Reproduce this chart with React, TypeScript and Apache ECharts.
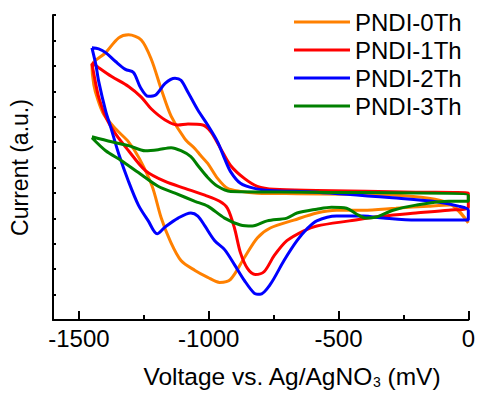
import React, { useEffect, useRef } from "react";
import * as echarts from "echarts";

// Voltage (mV) vs current (a.u.) loops
const seriesNames = ["PNDI-0Th", "PNDI-1Th", "PNDI-2Th", "PNDI-3Th"];
const seriesColors = ["#FF8000", "#FF0000", "#0000FF", "#008000"];

const pndi0Th: [number, number][] = [
  [0, 3.82], [-38, 4.29], [-76, 4.6], [-153, 4.79], [-279, 4.91], [-469, 4.95], [-660, 4.97],
  [-813, 4.99], [-878, 5.06], [-928, 5.18], [-966, 5.57], [-1004, 6.16], [-1031, 6.47],
  [-1053, 6.74], [-1092, 7.13], [-1145, 8.02], [-1183, 9.08], [-1221, 10.25], [-1260, 11.02],
  [-1309, 11.22], [-1347, 11.1], [-1397, 10.52], [-1450, 10.01],
  [-1443, 9.27], [-1428, 8.69], [-1405, 8.1], [-1359, 7.52], [-1309, 7.01], [-1267, 6.35],
  [-1218, 5.26], [-1183, 4.01], [-1149, 3.12], [-1107, 2.34], [-1053, 1.95], [-1004, 1.68],
  [-958, 1.48], [-916, 1.6], [-863, 2.45], [-813, 3.23], [-763, 3.62], [-672, 3.93],
  [-584, 4.21], [-508, 4.32], [-405, 4.32], [-279, 4.4], [-153, 4.48], [-69, 4.52], [0, 3.82],
];

const pndi1Th: [number, number][] = [
  [-1450, 10.09], [-1435, 9.27], [-1424, 8.77], [-1397, 7.99], [-1359, 7.32], [-1309, 6.66],
  [-1244, 5.88], [-1168, 5.45], [-1092, 5.18], [-1015, 4.91], [-958, 4.67], [-928, 4.4],
  [-901, 3.62], [-878, 2.65], [-851, 2.03], [-821, 1.79], [-786, 1.91], [-748, 2.53],
  [-699, 3.12], [-634, 3.51], [-584, 3.7], [-458, 3.9], [-328, 4.09], [-202, 4.21],
  [-76, 4.32], [0, 4.44],
  [0, 4.99], [-202, 5.03], [-584, 5.1], [-748, 5.14], [-813, 5.26], [-863, 5.57],
  [-916, 6.08], [-954, 6.74], [-992, 7.4], [-1023, 7.67], [-1080, 7.71], [-1118, 7.67],
  [-1168, 7.87], [-1221, 8.3], [-1260, 8.77], [-1309, 9.19], [-1374, 9.58], [-1424, 9.93],
  [-1450, 10.13],
];

const pndi2Th: [number, number][] = [
  [-1450, 10.71], [-1435, 10.05], [-1424, 9.39], [-1397, 8.22], [-1378, 7.6], [-1347, 6.54],
  [-1309, 5.45], [-1271, 4.52], [-1233, 3.9], [-1199, 3.39], [-1168, 3.66], [-1118, 4.01],
  [-1069, 4.21], [-1042, 4.09], [-1015, 3.7], [-977, 3.12], [-939, 2.77], [-901, 2.18],
  [-863, 1.56], [-824, 1.05], [-802, 1.01], [-763, 1.4], [-710, 2.34], [-660, 3.12],
  [-622, 3.58], [-584, 3.9], [-508, 4.09], [-405, 4.09], [-328, 4.01], [-202, 3.93], [0, 3.93],
  [0, 4.32], [-38, 4.48], [-137, 4.67], [-267, 4.79], [-584, 5.03], [-763, 5.1], [-824, 5.18],
  [-878, 5.38], [-916, 5.84], [-939, 6.35], [-966, 7.01], [-1004, 7.67], [-1042, 8.26],
  [-1080, 8.96], [-1107, 9.43], [-1130, 9.51], [-1168, 9.31], [-1206, 8.84], [-1233, 8.8],
  [-1263, 9.15], [-1290, 9.74], [-1321, 9.86], [-1359, 10.17], [-1397, 10.52], [-1424, 10.67],
  [-1450, 10.71],
];

const pndi3Th: [number, number][] = [
  [-1450, 7.17], [-1397, 6.66], [-1336, 6.27], [-1271, 5.8], [-1195, 5.26], [-1130, 4.99],
  [-1053, 4.67], [-1004, 4.48], [-939, 4.01], [-878, 3.74], [-832, 3.7], [-775, 3.9],
  [-699, 4.01], [-660, 4.21], [-584, 4.36], [-527, 4.44], [-469, 4.4], [-431, 4.17],
  [-393, 4.01], [-355, 4.05], [-290, 4.32], [-202, 4.52], [-76, 4.67], [0, 4.67],
  [0, 4.91], [-584, 5.03], [-916, 5.06], [-966, 5.26], [-1004, 5.61], [-1042, 6.08],
  [-1069, 6.43], [-1107, 6.66], [-1145, 6.78], [-1195, 6.7], [-1244, 6.66], [-1309, 6.86],
  [-1374, 7.01], [-1450, 7.21],
];

const majorTicks = [-1500, -1000, -500, 0];
const minorTicks = [-1250, -750, -250];

const FONT = "'Liberation Sans', Arial, sans-serif";

export default function App() {
  const ref = useRef<HTMLDivElement>(null);
  useEffect(() => {
    if (!ref.current) return;
    const chart = echarts.init(ref.current, null, { renderer: "svg" });
    const allData = [pndi0Th, pndi1Th, pndi2Th, pndi3Th];
    chart.setOption({
      animation: false,
      backgroundColor: "#fff",
      textStyle: { fontFamily: FONT },
      grid: { left: 53, right: 5, top: 15, bottom: 71 },
      legend: {
        orient: "vertical",
        left: 294,
        top: 10,
        padding: 0,
        icon: "rect",
        itemWidth: 56,
        itemHeight: 3,
        itemGap: 4,
        data: seriesNames,
        textStyle: { fontSize: 24, color: "#000", fontFamily: FONT },
      },
      xAxis: [
        {
          type: "value",
          min: -1600,
          max: 0,
          name: "Voltage vs. Ag/AgNO{sub|3} (mV)",
          nameLocation: "middle",
          nameGap: 44,
          nameTextStyle: {
            fontSize: 24.5,
            color: "#000",
            fontFamily: FONT,
            padding: [0, 0, 0, 62],
            rich: {
              sub: { fontSize: 14, lineHeight: 14, padding: [18, 0, 0, 0], verticalAlign: "bottom", color: "#000", fontFamily: FONT },
            },
          },
          axisLine: { onZero: false, lineStyle: { color: "#000", width: 2 } },
          axisTick: { inside: true, length: 9, customValues: majorTicks, lineStyle: { color: "#000", width: 2 } },
          axisLabel: {
            customValues: majorTicks,
            formatter: (v: number) => String(v),
            alignMaxLabel: "center",
            fontSize: 24,
            color: "#000",
            margin: 6,
            fontFamily: FONT,
          },
          splitLine: { show: false },
        },
        {
          type: "value",
          min: -1600,
          max: 0,
          position: "bottom",
          axisLine: { show: false, onZero: false },
          axisTick: { inside: true, length: 5, customValues: minorTicks, lineStyle: { color: "#000", width: 2 } },
          axisLabel: { show: false },
          splitLine: { show: false },
        },
      ],
      yAxis: {
        type: "value",
        min: 0,
        max: 12,
        interval: 1,
        name: "Current (a.u.)",
        nameLocation: "middle",
        nameGap: 22,
        nameTextStyle: { fontSize: 23, color: "#000", fontFamily: FONT },
        axisLine: { onZero: false, lineStyle: { color: "#000", width: 2 } },
        axisTick: { inside: true, length: 3, lineStyle: { color: "#000", width: 2 } },
        axisLabel: { show: false },
        splitLine: { show: false },
      },
      series: allData.map((d, i) => ({
        name: seriesNames[i],
        type: "line",
        xAxisIndex: 0,
        data: d,
        smooth: 0.3,
        symbol: "none",
        color: seriesColors[i],
        lineStyle: { color: seriesColors[i], width: 3 },
      })),
    });
    return () => chart.dispose();
  }, []);
  return <div ref={ref} style={{ position: "fixed", left: 0, top: 0, width: 478, height: 394 }} />;
}
